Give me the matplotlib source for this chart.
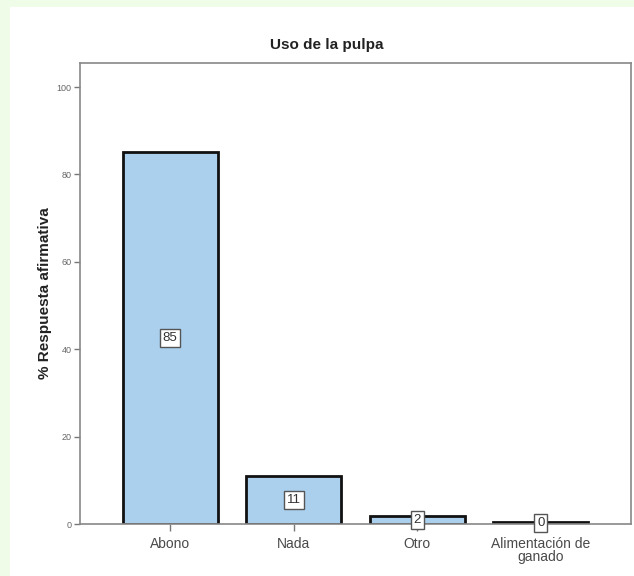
import matplotlib.pyplot as plt
from matplotlib.patches import Rectangle

plt.rcParams['font.family'] = ['Liberation Sans', 'DejaVu Sans']

# Porcentaje de respuesta afirmativa por uso
categorias = ['Abono', 'Nada', 'Otro', 'Alimentación de\nganado']
porcentajes = [85.1, 10.9, 1.8, 0.4]
etiquetas = [f'{v:.0f}' for v in porcentajes]

fig = plt.figure(figsize=(6.34, 5.76), dpi=100)
fig.patch.set_facecolor('#eefce8')
# panel blanco del gráfico
fig.patches.append(Rectangle((10 / 634, 0), 624 / 634, 569 / 576,
                             transform=fig.transFigure, facecolor='white',
                             edgecolor='none', zorder=-5))

ax = fig.add_axes([80 / 634, 52 / 576, 551 / 634, 461 / 576])
x = range(len(categorias))
barras = ax.bar(x, porcentajes, width=0.77, color='#abd0ee',
                edgecolor='#111111', linewidth=2)

for xi, v, txt in zip(x, porcentajes, etiquetas):
    ax.text(xi, v / 2, txt, ha='center', va='center', fontsize=9.5, color='#333333',
            bbox=dict(boxstyle='square,pad=0.22', facecolor='white',
                      edgecolor='#555555', linewidth=1))

ax.set_xlim(-0.73, 3.73)
ax.set_ylim(0, 105.5)
ax.set_yticks([0, 20, 40, 60, 80, 100])
ax.set_xticks(list(x))
ax.set_xticklabels(categorias, fontsize=10, color='#4a4a4a', linespacing=0.95,
                   va='top')
ax.tick_params(axis='y', labelsize=6.5, labelcolor='#666666', length=4,
               color='#777777', width=1, pad=2)
ax.tick_params(axis='x', length=5, color='#777777', width=1, pad=4)
for s in ax.spines.values():
    s.set_color('#888888')
    s.set_linewidth(1.2)

ax.set_ylabel('% Respuesta afirmativa', fontsize=11, fontweight='bold',
              color='#222222', labelpad=3)
# título centrado en el panel, no sobre los ejes
fig.text(327 / 634, 1 - 45 / 576, 'Uso de la pulpa', ha='center', va='center',
         fontsize=11, fontweight='bold', color='#222222')

fig.savefig('out.png', dpi=100, facecolor=fig.get_facecolor())
